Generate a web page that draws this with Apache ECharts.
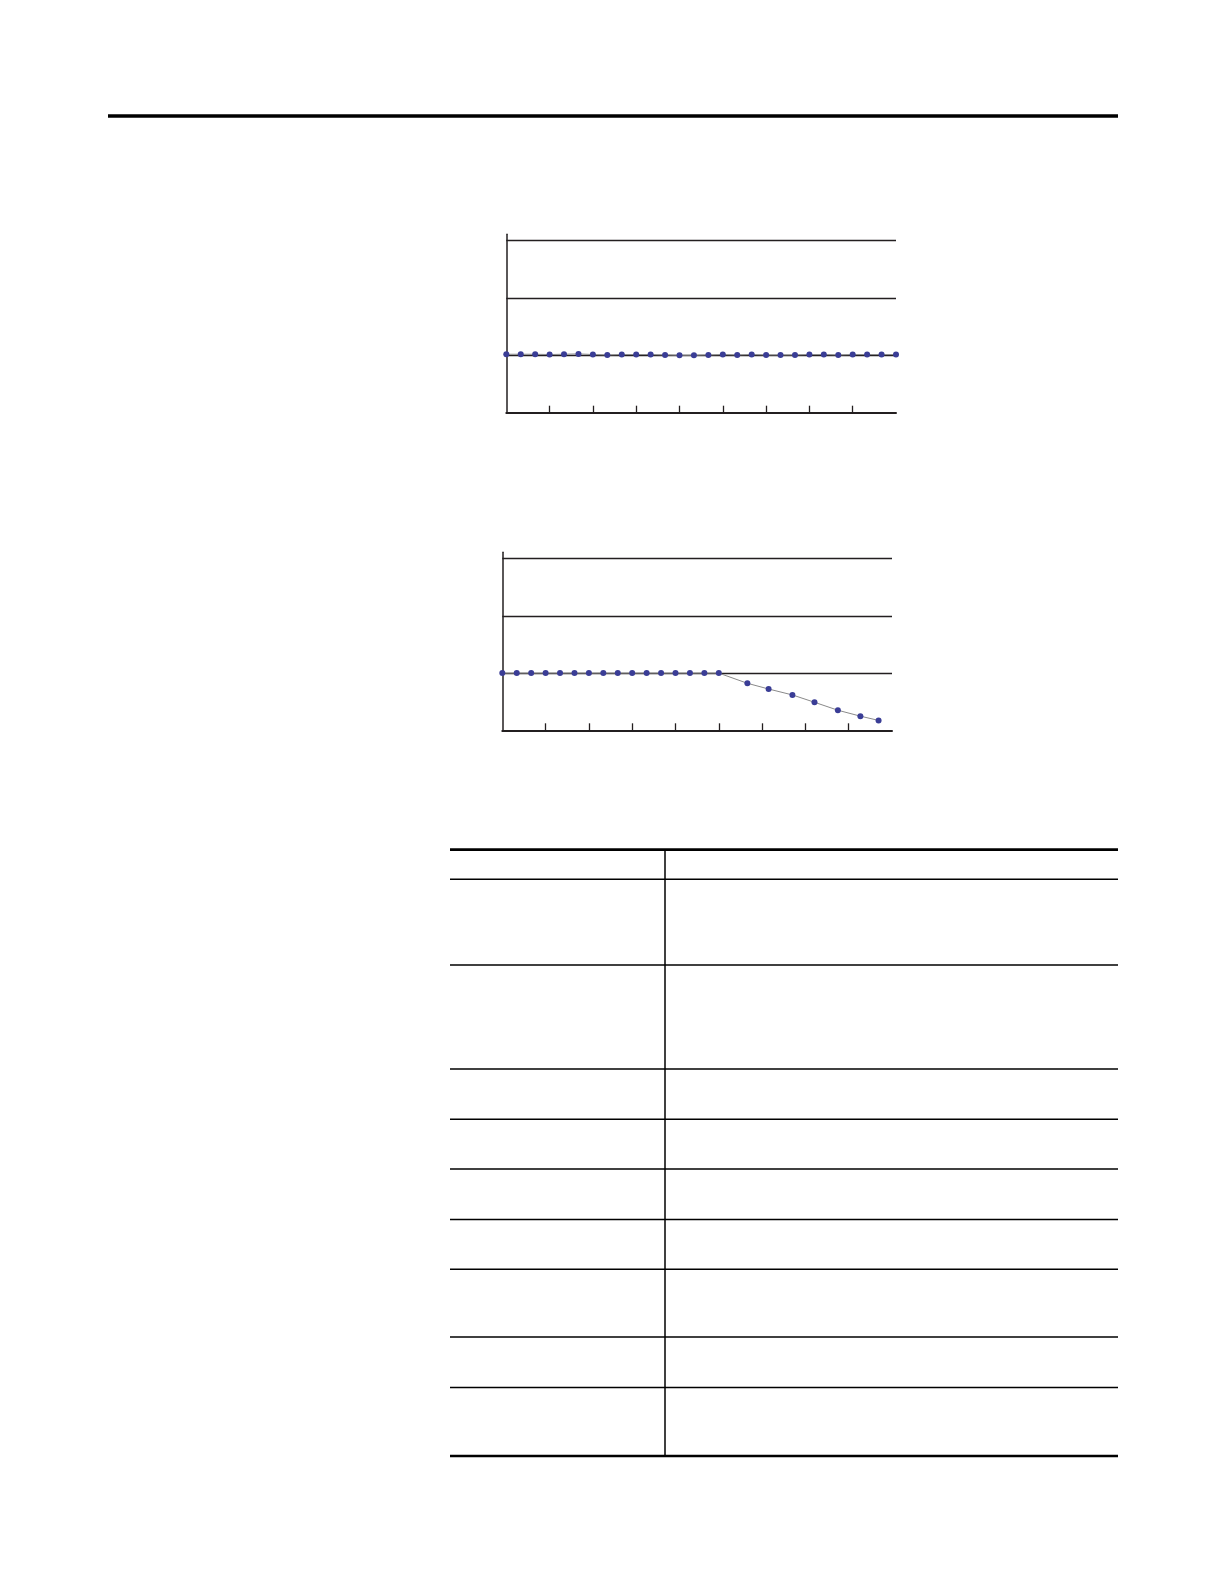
<!DOCTYPE html>
<html>
<head>
<meta charset="utf-8">
<script src="https://cdn.jsdelivr.net/npm/echarts@6/dist/echarts.min.js"></script>
<style>
html,body{margin:0;padding:0;background:#fff;}
#chart{width:1224px;height:1584px;}
</style>
</head>
<body>
<div id="chart"></div>
<script>
// ---- data ----
var xTickValues = [1, 2, 3, 4, 5, 6, 7, 8];

var chart1X = [0, 0.333, 0.667, 1, 1.333, 1.667, 2, 2.333, 2.667, 3, 3.333, 3.667, 4, 4.333,
               4.667, 5, 5.333, 5.667, 6, 6.333, 6.667, 7, 7.333, 7.667, 8, 8.333, 8.667, 9];
var chart1Y = [1.017, 1.017, 1.017, 1.012, 1.017, 1.023, 1.012, 1.006, 1.012, 1.012, 1.012, 1.006, 1.0, 1.0,
               1.006, 1.012, 1.006, 1.012, 1.006, 1.006, 1.006, 1.012, 1.012, 1.006, 1.012, 1.012, 1.012, 1.012];

var chart2X = [0, 0.333, 0.667, 1, 1.333, 1.667, 2, 2.333, 2.667, 3, 3.333, 3.667, 4, 4.333, 4.667, 5,
               5.66, 6.15, 6.70, 7.21, 7.75, 8.27, 8.69];
var chart2Y = [1, 1, 1, 1, 1, 1, 1, 1, 1, 1, 1, 1, 1, 1, 1, 1,
               0.822, 0.722, 0.618, 0.49, 0.351, 0.247, 0.173];

function pairs(xs, ys) {
  var out = [];
  for (var i = 0; i < xs.length; i++) out.push([xs[i], ys[i]]);
  return out;
}

var INK = '#231f20';
var DOT = '#3a3d96';

function xAxisFor(gi) {
  return {
    type: 'value', gridIndex: gi, min: 0, max: 9, interval: 1,
    axisLine: { show: true, onZero: false, lineStyle: { color: INK, width: 2 } },
    axisTick: { show: true, inside: true, length: 7, customValues: xTickValues, lineStyle: { color: INK, width: 1.3 } },
    axisLabel: { show: false },
    splitLine: { show: false }
  };
}
function yAxisFor(gi, max) {
  return {
    type: 'value', gridIndex: gi, min: 0, max: max, interval: 1,
    axisLine: { show: true, lineStyle: { color: INK, width: 1.5 } },
    axisTick: { show: false },
    axisLabel: { show: false },
    splitLine: { show: true, showMinLine: false, showMaxLine: false, lineStyle: { color: INK, width: 1.3 } }
  };
}

// table rules (layout only)
var tableRows = [879.3, 965.1, 1069.1, 1119.3, 1169.1, 1219.5, 1269.2, 1337, 1387.4];
var graphics = [
  { type: 'line', shape: { x1: 108, y1: 116, x2: 1118, y2: 116 }, style: { stroke: '#000', lineWidth: 3.5 } },
  { type: 'line', shape: { x1: 450, y1: 849.6, x2: 1118, y2: 849.6 }, style: { stroke: '#000', lineWidth: 2.6 } },
  { type: 'line', shape: { x1: 450, y1: 1456, x2: 1118, y2: 1456 }, style: { stroke: '#000', lineWidth: 2.6 } },
  { type: 'line', shape: { x1: 665, y1: 849.6, x2: 665, y2: 1456 }, style: { stroke: '#000', lineWidth: 1.5 } }
];
tableRows.forEach(function (y) {
  graphics.push({ type: 'line', shape: { x1: 450, y1: y, x2: 1118, y2: y }, style: { stroke: '#000', lineWidth: 1.5 } });
});

var chart = echarts.init(document.getElementById('chart'), null, { renderer: 'canvas' });
chart.setOption({
  backgroundColor: '#fff',
  animation: false,
  grid: [
    { left: 506.3, top: 234.3, right: 1224 - 896, bottom: 1584 - 412.7, containLabel: false },
    { left: 502.3, top: 552.3, right: 1224 - 892, bottom: 1584 - 730.3, containLabel: false }
  ],
  xAxis: [xAxisFor(0), xAxisFor(1)],
  yAxis: [yAxisFor(0, 3.104), yAxisFor(1, 3.112)],
  series: [
    {
      type: 'line', xAxisIndex: 0, yAxisIndex: 0, data: pairs(chart1X, chart1Y),
      symbol: 'circle', symbolSize: 6, z: 3,
      lineStyle: { color: '#8a8a8a', width: 1 },
      itemStyle: { color: DOT }
    },
    {
      type: 'line', xAxisIndex: 1, yAxisIndex: 1, data: pairs(chart2X, chart2Y),
      symbol: 'circle', symbolSize: 6, z: 3,
      lineStyle: { color: '#8a8a8a', width: 1 },
      itemStyle: { color: DOT }
    }
  ],
  graphic: graphics
});
</script>
</body>
</html>
